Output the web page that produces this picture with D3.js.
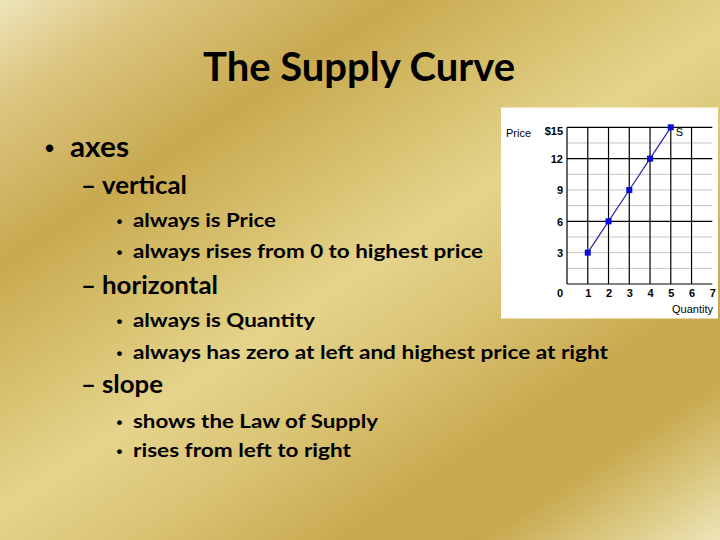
<!DOCTYPE html>
<html><head><meta charset="utf-8">
<script src="https://cdn.jsdelivr.net/npm/d3@7"></script>
<style>html,body{margin:0;padding:0;overflow:hidden;background:#d9c373}</style>
</head><body><svg id="c" width="720" height="540"></svg>
<script>
// ---- data ----
const quantity = [1, 2, 3, 4, 5];
const price = [3, 6, 9, 12, 15];
const xTicks = [1, 2, 3, 4, 5, 6, 7];
const yTicks = [0, 3, 6, 9, 12, 15];
const gridX = [0, 1, 2, 3, 4, 5, 6];
const gridMajorY = [0, 6, 12, 15];
const gridMinorY = [1.5, 3, 4.5, 7.5, 9, 10.5, 13.5];
const curveLabel = "S";
const titleText = "The Supply Curve";
const bulletTexts = [
  "axes",
  "vertical",
  "always is Price",
  "always rises from 0 to highest price",
  "horizontal",
  "always is Quantity",
  "always has zero at left and highest price at right",
  "slope",
  "shows the Law of Supply",
  "rises from left to right"
];
const bulletLevels = [1, 2, 3, 3, 2, 3, 3, 2, 3, 3];

// ---- layout ----
const svg = d3.select("#c");
const W = 720, H = 540;
const defs = svg.append("defs");
const g = defs.append("linearGradient").attr("id", "bg")
  .attr("gradientUnits", "userSpaceOnUse")
  .attr("x1", 0).attr("y1", 0).attr("x2", 471).attr("y2", 707);
[[0, "#eee5bb"], [0.1, "#dcc681"], [0.26, "#c8a94f"], [0.38, "#d6bf6c"],
 [0.5, "#e5d48c"], [0.62, "#d9c272"], [0.75, "#c9aa50"], [0.84, "#c7a84d"],
 [0.93, "#dccb86"], [1, "#eee4b8"]].forEach(([o, c]) =>
  g.append("stop").attr("offset", o).attr("stop-color", c));
svg.append("rect").attr("width", W).attr("height", H).attr("fill", "url(#bg)");

// title
svg.append("text").attr("x", 359).attr("y", 81)
  .attr("text-anchor", "middle")
  .attr("font-family", "Lato, 'Open Sans', sans-serif").attr("font-weight", 700)
  .attr("font-size", 40).attr("fill", "#000")
  .attr("textLength", 312).attr("lengthAdjust", "spacingAndGlyphs")
  .text(titleText);

// bullet list
const baselines = [157, 194, 227, 258, 294, 327, 358.5, 393, 427.5, 457];
const widths = [59, 85, 143, 350, 116, 182, 475, 61, 245, 218];
const lvl = {
  1: {textX: 70, size: 29, mark: "•", markX: 45, markSize: 26, markW: null},
  2: {textX: 102, size: 24, mark: "–", markX: 81, markSize: 24, markW: 15},
  3: {textX: 133, size: 19, mark: "•", markX: 116.5, markSize: 17, markW: null}
};
bulletTexts.forEach((t, i) => {
  const L = lvl[bulletLevels[i]];
  const gl = svg.append("g").attr("fill", "#000");
  const m = gl.append("text").attr("x", L.markX).attr("y", baselines[i])
    .attr("font-family", bulletLevels[i] === 2 ? "Lato, sans-serif" : "'Liberation Sans', Arial, sans-serif")
    .attr("font-weight", 700)
    .attr("font-size", L.markSize).text(L.mark);
  if (L.markW) m.attr("textLength", L.markW).attr("lengthAdjust", "spacingAndGlyphs");
  gl.append("text").attr("x", L.textX).attr("y", baselines[i])
    .attr("font-family", "Lato, 'Open Sans', sans-serif").attr("font-weight", 700)
    .attr("font-size", L.size)
    .attr("textLength", widths[i]).attr("lengthAdjust", "spacingAndGlyphs")
    .text(t);
});

// ---- chart panel ----
svg.append("rect").attr("x", 501).attr("y", 107.5).attr("width", 217).attr("height", 211)
  .attr("fill", "#ffffff");

const x = d3.scaleLinear().domain([0, 7]).range([567, 712.3]);
const y = d3.scaleLinear().domain([0, 15]).range([284, 127.3]);
const chartFont = "'Liberation Sans', Arial, sans-serif";

// grid
svg.append("g").selectAll("line").data(gridMinorY).join("line")
  .attr("x1", x(0)).attr("x2", x(7)).attr("y1", d => y(d)).attr("y2", d => y(d))
  .attr("stroke", "#c4c4c4").attr("stroke-width", 1);
svg.append("g").selectAll("line").data(gridX).join("line")
  .attr("x1", d => x(d)).attr("x2", d => x(d)).attr("y1", y(0)).attr("y2", y(15))
  .attr("stroke", "#000").attr("stroke-width", 1.2);
svg.append("g").selectAll("line").data(gridMajorY).join("line")
  .attr("x1", x(0)).attr("x2", x(7)).attr("y1", d => y(d)).attr("y2", d => y(d))
  .attr("stroke", "#000").attr("stroke-width", 1.2);

// axes (labels only)
const yAxis = svg.append("g").attr("transform", `translate(${x(0)},0)`)
  .call(d3.axisLeft(y).tickValues(yTicks).tickSize(0).tickPadding(4)
    .tickFormat(d => d === 15 ? "$15" : d3.format("d")(d)));
yAxis.select(".domain").remove();
yAxis.selectAll("text").attr("font-family", chartFont).attr("font-size", 11)
  .attr("font-weight", 700).attr("fill", "#000")
  .attr("dy", d => d === 0 ? "1.15em" : d === 15 ? "0.62em" : "0.34em");

const xAxis = svg.append("g").attr("transform", `translate(0,${y(0)})`)
  .call(d3.axisBottom(x).tickValues(xTicks).tickSize(0).tickPadding(5)
    .tickFormat(d3.format("d")));
xAxis.select(".domain").remove();
xAxis.selectAll("text").attr("font-family", chartFont).attr("font-size", 11)
  .attr("font-weight", 700).attr("fill", "#000");

// axis titles
svg.append("text").attr("x", 506).attr("y", 137)
  .attr("font-family", chartFont).attr("font-size", 11).attr("fill", "#000").text("Price");
svg.append("text").attr("x", 713).attr("y", 313).attr("text-anchor", "end")
  .attr("font-family", chartFont).attr("font-size", 11).attr("fill", "#000").text("Quantity");

// supply curve
const pts = quantity.map((q, i) => [q, price[i]]);
svg.append("path").datum(pts)
  .attr("d", d3.line().x(d => x(d[0])).y(d => y(d[1])))
  .attr("fill", "none").attr("stroke", "#2626a8").attr("stroke-width", 1.2);
svg.append("g").selectAll("rect").data(pts).join("rect")
  .attr("x", d => x(d[0]) - 3).attr("y", d => y(d[1]) - 3)
  .attr("width", 6).attr("height", 6).attr("fill", "#0a0ad8");
svg.append("text").attr("x", x(pts[pts.length - 1][0]) + 5).attr("y", y(pts[pts.length - 1][1]) + 9)
  .attr("font-family", chartFont).attr("font-size", 11).attr("fill", "#000").text(curveLabel);
</script>
</body></html>
